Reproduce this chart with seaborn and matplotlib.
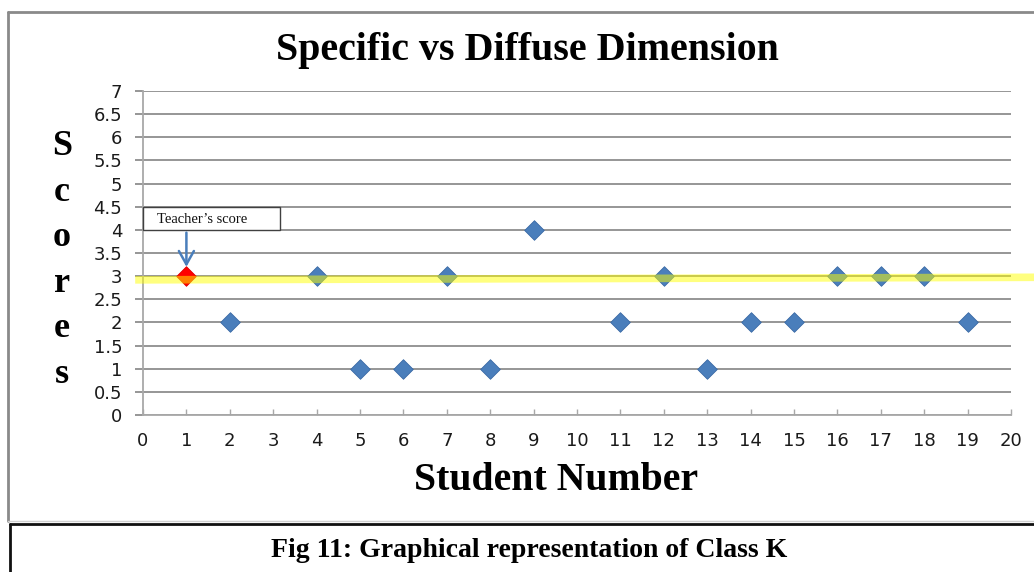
import matplotlib
matplotlib.use("Agg")
import matplotlib.pyplot as plt
from matplotlib.lines import Line2D
from matplotlib.patches import Rectangle
import seaborn as sns
import pandas as pd

# Scores per student (students 3 and 10 have no score)
students = [2, 4, 5, 6, 7, 8, 9, 11, 12, 13, 14, 15, 16, 17, 18, 19]
scores = [2, 3, 1, 1, 3, 1, 4, 2, 3, 1, 2, 2, 3, 3, 3, 2]

# Teacher's own score, plotted at position 1
teacher_x = [1]
teacher_score = [3]

# Reference band drawn at the teacher's level
band_x = [-0.18, 20.55]
band_y = [2.92, 2.975]

x_ticks = list(range(0, 21))
y_ticks = [0, 0.5, 1, 1.5, 2, 2.5, 3, 3.5, 4, 4.5, 5, 5.5, 6, 6.5, 7]
y_tick_labels = ["0", "0.5", "1", "1.5", "2", "2.5", "3", "3.5", "4", "4.5",
                 "5", "5.5", "6", "6.5", "7"]

sns.set_theme(style="white")
plt.rcParams["font.family"] = ["DejaVu Sans"]
plt.rcParams["text.color"] = "black"

W, H = 1034, 572
fig = plt.figure(figsize=(W / 100, H / 100), dpi=100)
ax = fig.add_axes([143 / W, 1 - 415 / H, (1011 - 143) / W, (415 - 91) / H])

df = pd.DataFrame({"student": students, "score": scores})
sns.scatterplot(data=df, x="student", y="score", marker="D", s=100,
                color="#4A7EBB", edgecolor="#3A6AA5", linewidth=0.6,
                ax=ax, zorder=3, clip_on=False)
tdf = pd.DataFrame({"student": teacher_x, "score": teacher_score})
sns.scatterplot(data=tdf, x="student", y="score", marker="D", s=100,
                color="#FF0000", edgecolor="#E00000", linewidth=0.6,
                ax=ax, zorder=3, clip_on=False)

# Translucent yellow band across the chart
ax.add_line(Line2D(band_x, band_y, color="#FFFF00", alpha=0.5, linewidth=5.5,
                   solid_capstyle="butt", zorder=4, clip_on=False))

ax.set_xlim(0, 20)
ax.set_ylim(0, 7)
ax.set_xticks(x_ticks)
ax.set_xticklabels([str(t) for t in x_ticks])
ax.set_yticks(y_ticks)
ax.set_yticklabels(y_tick_labels)
ax.set_xlabel("")
ax.set_ylabel("")

grid_c = "#8E8E8E"
ax.grid(axis="y", color=grid_c, linewidth=1.3)
ax.grid(axis="x", visible=False)
ax.set_axisbelow(True)
for side in ("top", "right"):
    ax.spines[side].set_visible(False)
for side in ("left", "bottom"):
    ax.spines[side].set_color("#A8A8A8")
    ax.spines[side].set_linewidth(1.3)

ax.tick_params(axis="x", direction="in", length=4.5, width=1.0, color="#A8A8A8",
               pad=12, labelsize=13, labelcolor="#1A1A1A", bottom=True)
ax.tick_params(axis="y", direction="out", length=6, width=1.3, color=grid_c,
               pad=9, labelsize=13, labelcolor="#1A1A1A", left=True)

# Teacher's score callout
ax.add_patch(Rectangle((0, 4.0), 3.15, 0.5, facecolor="white", edgecolor="#404040",
                       linewidth=1.0, zorder=5, clip_on=False))
ax.text(1.36, 4.22, "Teacher\u2019s score", ha="center", va="center", fontsize=10.5,
        family=["Liberation Serif", "DejaVu Serif"], color="#111111", zorder=6)
ax.annotate("", xy=(1.0, 3.14), xytext=(1.0, 4.0),
            arrowprops=dict(arrowstyle="->,head_length=0.8,head_width=0.45",
                            color="#4A7EBB", lw=1.8), zorder=6)

serif = ["Liberation Serif", "DejaVu Serif"]
fig.text(527 / W, 1 - 60 / H, "Specific vs Diffuse Dimension", ha="center",
         va="baseline", fontsize=28.7, fontweight="bold", family=serif)
fig.text(556 / W, 1 - 490 / H, "Student Number", ha="center", va="baseline",
         fontsize=28.6, fontweight="bold", family=serif)

# Vertical stacked axis title
for i, ch in enumerate("Scores"):
    fig.text(62 / W, 1 - (155 + i * 45.6) / H, ch, ha="center", va="baseline",
             fontsize=26, fontweight="bold", family=serif)

# Chart frame
frame_c = "#8A8A8A"
fig.add_artist(Line2D([8 / W, 1.0], [1 - 12 / H, 1 - 12 / H], color=frame_c,
                      linewidth=2, transform=fig.transFigure))
fig.add_artist(Line2D([8 / W, 8 / W], [1 - 12 / H, 1 - 521 / H], color=frame_c,
                      linewidth=2, transform=fig.transFigure))
fig.add_artist(Line2D([8 / W, 1.0], [1 - 521 / H, 1 - 521 / H], color="#D0D0D0",
                      linewidth=1, transform=fig.transFigure))

# Caption box
fig.add_artist(Line2D([10 / W, 1.0], [1 - 524 / H, 1 - 524 / H], color="#111111",
                      linewidth=2, transform=fig.transFigure))
fig.add_artist(Line2D([10 / W, 10 / W], [1 - 524 / H, 0], color="#111111",
                      linewidth=2, transform=fig.transFigure))
fig.text(529 / W, 1 - 557 / H, "Fig 11: Graphical representation of Class K",
         ha="center", va="baseline", fontsize=20, fontweight="bold", family=serif)

fig.savefig("out.png", dpi=100, facecolor="white")
